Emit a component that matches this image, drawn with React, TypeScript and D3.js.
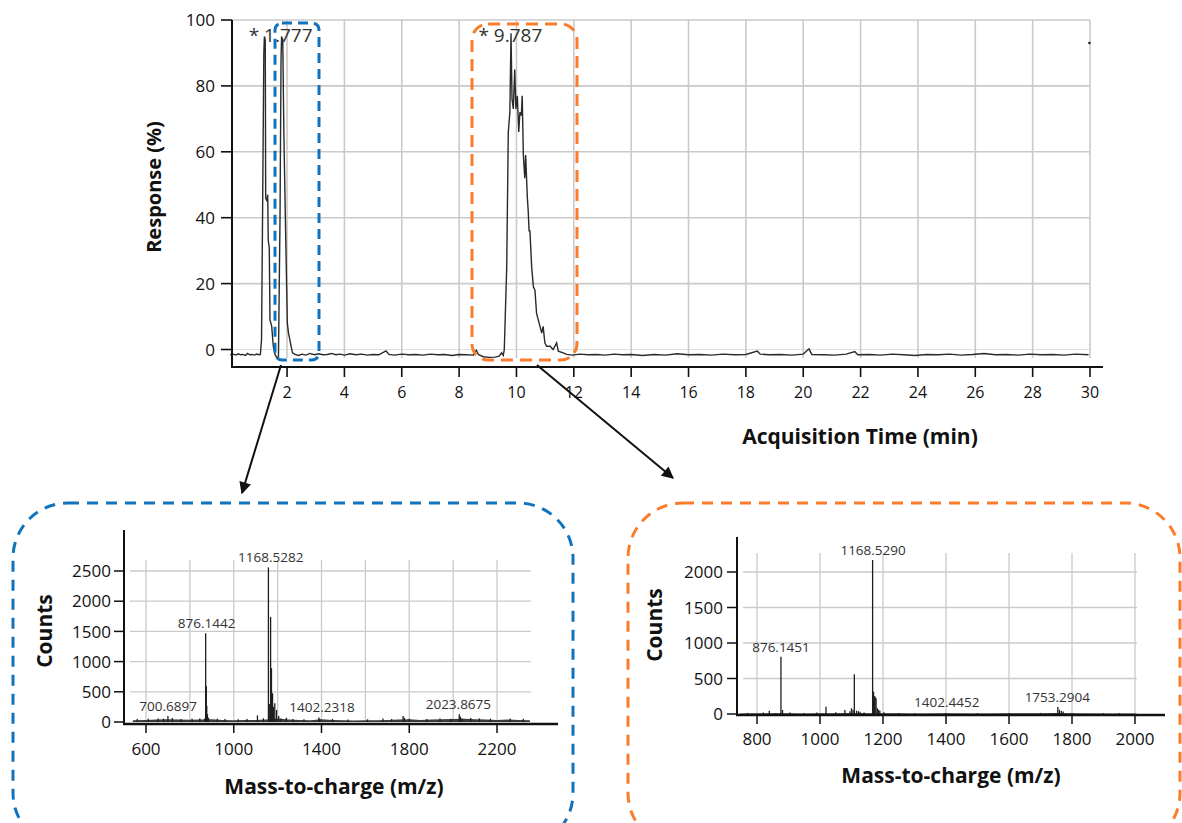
import React from 'react';
import { scaleLinear, line, area } from 'd3';

// chromatogram as [time (min), response (%)]
const baselineEarly = [
  [0.02, -1.6], [0.12, -1.4], [0.22, -1.7], [0.3, -1.3], [0.38, -1.6], [0.46, -1.5],
  [0.55, -1.8], [0.62, -1.2], [0.7, -1.6], [0.78, -1.5], [0.86, -1.7], [0.94, -1.4],
  [1.02, -1.6], [1.07, -1.5],
];
const peakPair = [
  [1.11, 3], [1.15, 45], [1.19, 90], [1.21, 95], [1.24, 94], [1.255, 46], [1.3, 45],
  [1.325, 47], [1.345, 33], [1.38, 31], [1.405, 9], [1.465, 7], [1.52, 1], [1.58, -1.5],
  [1.65, -2.6], [1.7, -2.2], [1.755, 40], [1.79, 88], [1.81, 95], [1.85, 94], [1.89, 65],
  [1.945, 38], [2.01, 8], [2.05, 5], [2.085, 3.5], [2.14, 1], [2.19, -1], [2.28, -1.5],
];
const baselineMid = [
  [2.4, -1.8], [2.52, -1.4], [2.65, -1.7], [2.8, -1.2], [2.95, -1.6], [3.1, -1.3],
  [3.25, -1.6], [3.4, -1.5], [3.55, -1.2], [3.7, -1.6], [3.85, -1.4], [4.0, -1.7],
  [4.2, -1.3], [4.4, -1.6], [4.6, -1.4], [4.8, -1.7], [5.0, -1.5], [5.2, -1.6],
  [5.45, -0.4], [5.55, -1.5], [5.75, -1.7], [6.0, -1.4], [6.25, -1.6], [6.5, -1.5],
  [6.75, -1.7], [7.0, -1.4], [7.25, -1.6], [7.5, -1.5], [7.75, -1.8], [8.0, -1.5],
  [8.25, -1.6], [8.5, -1.7], [8.6, -0.2], [8.68, -1.6], [8.85, -2.2], [9.05, -2.4],
  [9.25, -2.3], [9.4, -2.0], [9.48, -1.0], [9.54, -1.8],
];
const peakMain = [
  [9.575, 0], [9.66, 25], [9.715, 66], [9.77, 72], [9.81, 96], [9.845, 76], [9.89, 73],
  [9.94, 85], [9.98, 73], [10.03, 77], [10.08, 66], [10.12, 72], [10.17, 71], [10.2, 77],
  [10.24, 59], [10.29, 52], [10.32, 59], [10.38, 46], [10.41, 42], [10.44, 36], [10.47, 36],
  [10.53, 25], [10.59, 19], [10.645, 18], [10.7, 11], [10.76, 9], [10.82, 7], [10.88, 5],
  [10.93, 7], [10.99, 2], [11.05, 1], [11.17, 1], [11.28, 0], [11.4, 2], [11.46, -0.5],
  [11.63, -1],
];
const baselineLate = [
  [11.75, -1.5], [11.95, -1.7], [12.2, -1.4], [12.5, -1.6], [12.8, -1.5], [13.1, -1.7],
  [13.4, -1.4], [13.7, -1.6], [14.0, -1.5], [14.4, -1.8], [14.8, -1.5], [15.2, -1.7],
  [15.6, -1.3], [16.0, -1.6], [16.4, -1.5], [16.8, -1.7], [17.2, -1.4], [17.6, -1.6],
  [18.0, -1.5], [18.4, -0.5], [18.5, -1.4], [18.8, -1.6], [19.2, -1.5], [19.6, -1.7],
  [20.0, -1.4], [20.2, 0.2], [20.3, -1.5], [20.7, -1.6], [21.1, -1.7], [21.5, -1.4],
  [21.8, -0.6], [21.9, -1.6], [22.3, -1.5], [22.7, -1.7], [23.1, -1.4], [23.5, -1.6],
  [23.9, -1.8], [24.3, -1.5], [24.7, -1.6], [25.1, -1.4], [25.5, -1.7], [25.9, -1.5],
  [26.3, -1.2], [26.7, -1.6], [27.1, -1.5], [27.5, -1.7], [27.9, -1.4], [28.3, -1.6],
  [28.7, -1.5], [29.1, -1.7], [29.5, -1.4], [29.95, -1.6],
];
const strayPoint = [29.98, 93];
const chromXTicks = [2, 4, 6, 8, 10, 12, 14, 16, 18, 20, 22, 24, 26, 28, 30];
const chromYTicks = [0, 20, 40, 60, 80, 100];
const peakTimes = [1.777, 9.787];

// spectrum at 1.777 min, [m/z, counts]
const leftBaseline = [
  [540, 30], [600, 35], [650, 40], [700, 45], [750, 40], [800, 38], [850, 40], [900, 45],
  [950, 35], [1000, 30], [1050, 32], [1100, 35], [1150, 40], [1200, 60], [1250, 40],
  [1300, 35], [1350, 30], [1400, 45], [1450, 35], [1500, 30], [1550, 25], [1600, 28],
  [1650, 30], [1700, 35], [1750, 40], [1800, 45], [1850, 35], [1900, 40], [1950, 45],
  [2000, 50], [2050, 55], [2100, 45], [2150, 40], [2200, 35], [2250, 40], [2300, 35],
  [2350, 30],
];
const leftSticks = [
  [560, 50], [610, 55], [655, 60], [680, 55], [700, 100], [720, 65], [760, 50], [810, 55],
  [845, 60], [868, 60], [872, 1470], [875, 590], [877, 270], [880, 130], [885, 70],
  [925, 55], [960, 50], [1020, 45], [1060, 50], [1108, 110], [1135, 60], [1158, 2560],
  [1162, 300], [1168, 1740], [1172, 890], [1175, 480], [1177, 470], [1181, 250],
  [1187, 310], [1195, 200], [1205, 100], [1215, 60], [1240, 70], [1270, 50], [1320, 45],
  [1388, 75], [1393, 50], [1450, 50], [1520, 40], [1610, 45], [1680, 60], [1720, 50],
  [1772, 100], [1778, 70], [1800, 55], [1880, 50], [1940, 60], [1990, 55], [2028, 130],
  [2033, 90], [2040, 60], [2080, 65], [2120, 60], [2170, 55], [2260, 60], [2320, 55],
];
const leftLabels = ['700.6897', '876.1442', '1168.5282', '1402.2318', '2023.8675'];
const leftLabelCounts = [100, 1470, 2560, 75, 130];
const leftXTicks = [600, 1000, 1400, 1800, 2200];
const leftYTicks = [0, 500, 1000, 1500, 2000, 2500];
const leftGridX = [600, 800, 1000, 1200, 1400, 1600, 1800, 2000, 2200];

// spectrum at 9.787 min
const rightBaseline = [
  [745, 8], [800, 10], [850, 9], [900, 11], [950, 8], [1000, 10], [1050, 12], [1100, 14],
  [1150, 12], [1200, 12], [1250, 9], [1300, 8], [1400, 10], [1500, 8], [1600, 9],
  [1700, 10], [1750, 14], [1800, 9], [1900, 8], [2005, 8],
];
const rightSticks = [
  [770, 15], [820, 20], [839, 46], [860, 15], [876, 807], [881, 56], [905, 20], [950, 15],
  [990, 20], [1019, 103], [1050, 25], [1079, 56], [1095, 40], [1100, 80], [1105, 60],
  [1109, 559], [1116, 46], [1122, 40], [1127, 30], [1140, 20], [1167, 2169], [1170, 315],
  [1173, 250], [1175, 244], [1178, 221], [1182, 80], [1186, 60], [1190, 46], [1203, 25],
  [1250, 15], [1300, 12], [1400, 15], [1500, 12], [1600, 10], [1700, 15], [1755, 99],
  [1760, 60], [1766, 45], [1772, 35], [1800, 15], [1900, 12], [1950, 10],
];
const rightLabels = ['876.1451', '1168.5290', '1402.4452', '1753.2904'];
const rightLabelCounts = [807, 2169, 30, 99];
const rightXTicks = [800, 1000, 1200, 1400, 1600, 1800, 2000];
const rightYTicks = [0, 500, 1000, 1500, 2000];

const FONT = "'Open Sans', 'DejaVu Sans', sans-serif";
const BLUE = '#1273bd';
const ORANGE = '#fb7d2b';
const GRID = '#cacaca';

const App = () => {
  // top chromatogram
  const xT = scaleLinear().domain([0, 30]).range([229.7, 1090]);
  const yT = scaleLinear().domain([0, 100]).range([349.5, 20]);
  const chrom = [...baselineEarly, ...peakPair, ...baselineMid, ...peakMain, ...baselineLate];
  const chromPath = line<number[]>()
    .x((d) => xT(d[0]))
    .y((d) => yT(d[1]))(chrom);

  // bottom left spectrum
  const xL = scaleLinear().domain([600, 2200]).range([146, 497]);
  const yL = scaleLinear().domain([0, 2500]).range([722, 571]);
  const leftArea = area<number[]>()
    .x((d) => xL(d[0]))
    .y0(yL(0))
    .y1((d) => yL(d[1]))(leftBaseline);

  // bottom right spectrum
  const xR = scaleLinear().domain([800, 2000]).range([757, 1135]);
  const yR = scaleLinear().domain([0, 2000]).range([714, 572]);
  const rightArea = area<number[]>()
    .x((d) => xR(d[0]))
    .y0(yR(0))
    .y1((d) => yR(d[1]))(rightBaseline);

  return (
    <svg
      width={1182}
      height={823}
      style={{ position: 'absolute', left: 0, top: 0, background: '#fff' }}
      fontFamily={FONT}
    >
      <defs>
        <marker
          id="head"
          viewBox="0 0 10 10"
          refX="9"
          refY="5"
          markerWidth="15"
          markerHeight="12"
          markerUnits="userSpaceOnUse"
          orient="auto"
        >
          <path d="M0,0 L10,5 L0,10 z" fill="#111" />
        </marker>
      </defs>

      {/* ---------- top chart ---------- */}
      <g>
        {chromYTicks.map((v) => (
          <line key={'gy' + v} x1={232} x2={xT(30)} y1={yT(v)} y2={yT(v)}
            stroke={GRID} strokeWidth={v === 0 ? 1 : 1.6} opacity={v === 0 ? 0.6 : 1} />
        ))}
        {chromXTicks.map((t) => (
          <line key={'gx' + t} x1={xT(t)} x2={xT(t)} y1={yT(100)} y2={358}
            stroke={GRID} strokeWidth={1.6} />
        ))}
        <path d={chromPath || ''} fill="none" stroke="#2a2a2a" strokeWidth={1.4} />
        <circle cx={xT(strayPoint[0])} cy={yT(strayPoint[1])} r={1.3} fill="#222" />

        <line x1={232} x2={232} y1={yT(100)} y2={368} stroke="#111" strokeWidth={2} />
        <line x1={231} x2={1103} y1={367} y2={367} stroke="#111" strokeWidth={2} />
        {chromYTicks.map((v) => (
          <g key={'ty' + v}>
            <line x1={221} x2={232} y1={yT(v)} y2={yT(v)} stroke="#111" strokeWidth={1.6} />
            <text x={215} y={yT(v)} dy="0.36em" textAnchor="end" fontSize={17} fill="#111">
              {v}
            </text>
          </g>
        ))}
        {chromXTicks.map((t) => (
          <g key={'tx' + t}>
            <line x1={xT(t)} x2={xT(t)} y1={367} y2={377} stroke="#111" strokeWidth={1.6} />
            <text x={xT(t)} y={398} textAnchor="middle" fontSize={16} fill="#111">
              {t}
            </text>
          </g>
        ))}
        <text transform="translate(161,187) rotate(-90)" textAnchor="middle"
          fontSize={20} fontWeight={700} fill="#111">
          Response (%)
        </text>
        <text x={860} y={444} textAnchor="middle" fontSize={21} fontWeight={700} fill="#111">
          Acquisition Time (min)
        </text>
        {peakTimes.map((t) => (
          <text key={'pk' + t} x={xT(t)} y={42} textAnchor="middle" fontSize={19} fill="#333">
            {'* ' + t.toFixed(3)}
          </text>
        ))}

        {/* highlight boxes */}
        <rect x={275} y={23} width={44} height={337} rx={7} fill="none"
          stroke={BLUE} strokeWidth={3} strokeDasharray="10 6" />
        <rect x={472} y={24} width={105} height={336} rx={16} fill="none"
          stroke={ORANGE} strokeWidth={3} strokeDasharray="12 7" />
      </g>

      {/* arrows */}
      <line x1={281} y1={365} x2={242} y2={493} stroke="#111" strokeWidth={2}
        markerEnd="url(#head)" />
      <line x1={537} y1={365} x2={673} y2={478} stroke="#111" strokeWidth={2}
        markerEnd="url(#head)" />

      {/* ---------- bottom left ---------- */}
      <g>
        <rect x={13} y={503} width={560} height={345} rx={55} fill="none"
          stroke={BLUE} strokeWidth={3} strokeDasharray="11 8" />
        {leftYTicks.filter((v) => v > 0).map((v) => (
          <line key={'lgy' + v} x1={130} x2={531} y1={yL(v)} y2={yL(v)} stroke={GRID} strokeWidth={1.3} />
        ))}
        {leftGridX.map((m) => (
          <line key={'lgx' + m} x1={xL(m)} x2={xL(m)} y1={560} y2={722} stroke={GRID} strokeWidth={1.3} />
        ))}
        <path d={leftArea || ''} fill="#3a3a3a" />
        {leftSticks.map(([m, c]) => (
          <line key={'ls' + m} x1={xL(m)} x2={xL(m)} y1={yL(0)} y2={yL(c)} stroke="#1e1e1e" strokeWidth={1.3} />
        ))}
        {leftLabels.map((s, i) => (
          <text key={'ll' + s} x={xL(+s)} y={yL(leftLabelCounts[i]) - 5} textAnchor="middle"
            fontSize={13.5} fill="#333">
            {s}
          </text>
        ))}
        <line x1={124} x2={124} y1={530} y2={725} stroke="#111" strokeWidth={2} />
        <line x1={123} x2={558} y1={724} y2={724} stroke="#111" strokeWidth={2.5} />
        {leftYTicks.map((v) => (
          <g key={'lty' + v}>
            <line x1={114} x2={124} y1={yL(v)} y2={yL(v)} stroke="#111" strokeWidth={1.5} />
            <text x={111} y={yL(v)} dy="0.36em" textAnchor="end" fontSize={17} fill="#111">
              {v}
            </text>
          </g>
        ))}
        {leftXTicks.map((m) => (
          <g key={'ltx' + m}>
            <line x1={xL(m)} x2={xL(m)} y1={724} y2={733} stroke="#111" strokeWidth={1.5} />
            <text x={xL(m)} y={755} textAnchor="middle" fontSize={17} fill="#111">
              {m}
            </text>
          </g>
        ))}
        <text transform="translate(52,631) rotate(-90)" textAnchor="middle"
          fontSize={21} fontWeight={700} fill="#111">
          Counts
        </text>
        <text x={334} y={794} textAnchor="middle" fontSize={21} fontWeight={700} fill="#111">
          Mass-to-charge (m/z)
        </text>
      </g>

      {/* ---------- bottom right ---------- */}
      <g>
        <rect x={628} y={503} width={552} height={345} rx={55} fill="none"
          stroke={ORANGE} strokeWidth={3} strokeDasharray="11 8" />
        {rightYTicks.filter((v) => v > 0).map((v) => (
          <line key={'rgy' + v} x1={743} x2={1137} y1={yR(v)} y2={yR(v)} stroke={GRID} strokeWidth={1.3} />
        ))}
        {rightXTicks.map((m) => (
          <line key={'rgx' + m} x1={xR(m)} x2={xR(m)} y1={553} y2={714} stroke={GRID} strokeWidth={1.3} />
        ))}
        <path d={rightArea || ''} fill="#3a3a3a" />
        {rightSticks.map(([m, c]) => (
          <line key={'rs' + m} x1={xR(m)} x2={xR(m)} y1={yR(0)} y2={yR(c)} stroke="#1e1e1e" strokeWidth={1.3} />
        ))}
        {rightLabels.map((s, i) => (
          <text key={'rl' + s} x={xR(+s)} y={yR(rightLabelCounts[i]) - 5} textAnchor="middle"
            fontSize={13.5} fill="#333">
            {s}
          </text>
        ))}
        <line x1={737} x2={737} y1={537} y2={716} stroke="#111" strokeWidth={2} />
        <line x1={736} x2={1165} y1={715} y2={715} stroke="#111" strokeWidth={2.5} />
        {rightYTicks.map((v) => (
          <g key={'rty' + v}>
            <line x1={727} x2={737} y1={yR(v)} y2={yR(v)} stroke="#111" strokeWidth={1.5} />
            <text x={723} y={yR(v)} dy="0.36em" textAnchor="end" fontSize={17} fill="#111">
              {v}
            </text>
          </g>
        ))}
        {rightXTicks.map((m) => (
          <g key={'rtx' + m}>
            <line x1={xR(m)} x2={xR(m)} y1={715} y2={724} stroke="#111" strokeWidth={1.5} />
            <text x={xR(m)} y={745} textAnchor="middle" fontSize={17} fill="#111">
              {m}
            </text>
          </g>
        ))}
        <text transform="translate(662,625) rotate(-90)" textAnchor="middle"
          fontSize={21} fontWeight={700} fill="#111">
          Counts
        </text>
        <text x={951} y={783} textAnchor="middle" fontSize={21} fontWeight={700} fill="#111">
          Mass-to-charge (m/z)
        </text>
      </g>
    </svg>
  );
};

export default App;
